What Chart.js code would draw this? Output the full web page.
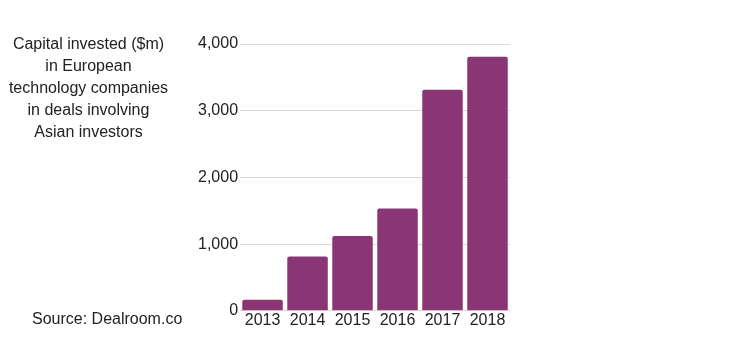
<!DOCTYPE html>
<html>
<head>
<meta charset="utf-8">
<script src="https://cdn.jsdelivr.net/npm/chart.js@4"></script>
<style>
  html, body { margin: 0; padding: 0; background: #fff; }
  #wrap { position: relative; width: 750px; height: 355px; }
  #c { position: absolute; left: 0; top: 0; }
  .txt { position: absolute; font-family: "Liberation Sans", Arial, sans-serif; font-size: 16px; color: #222; }
  #title { left: 0; top: 33px; width: 177px; text-align: center; line-height: 22px; }
  #source { left: 32px; top: 308px; line-height: 22px; }
</style>
</head>
<body>
<div id="wrap">
  <canvas id="c" width="750" height="355"></canvas>
  <div id="title" class="txt"></div>
  <div id="source" class="txt"></div>
</div>
<script>
const categories = ["2013", "2014", "2015", "2016", "2017", "2018"];
const capitalInvested = [165, 815, 1120, 1535, 3315, 3810];
const yTicks = [0, 1000, 2000, 3000, 4000];
const titleLines = ["Capital invested ($m)", "in European", "technology companies", "in deals involving", "Asian investors"];
const sourceText = "Source: Dealroom.co";

document.getElementById('title').innerHTML = titleLines.join('<br>');
document.getElementById('source').textContent = sourceText;

Chart.defaults.font.family = '"Liberation Sans", Arial, sans-serif';
Chart.defaults.font.size = 16;
Chart.defaults.color = '#222';

new Chart(document.getElementById('c'), {
  type: 'bar',
  data: {
    labels: categories,
    datasets: [{
      data: capitalInvested,
      backgroundColor: '#8a3574',
      borderRadius: 2,
      borderSkipped: 'bottom',
      barPercentage: 0.9,
      categoryPercentage: 1.0
    }]
  },
  options: {
    responsive: false,
    animation: false,
    devicePixelRatio: 1,
    layout: { padding: { left: 196, right: 240, top: 44, bottom: 25 } },
    plugins: { legend: { display: false }, tooltip: { enabled: false } },
    scales: {
      x: {
        grid: { display: false, drawTicks: false },
        border: { display: false },
        ticks: { padding: 0, color: '#222', maxRotation: 0 }
      },
      y: {
        min: 0, max: 4000,
        afterBuildTicks: (s) => { s.ticks = yTicks.map(v => ({ value: v })); },
        grid: { color: '#d9d9d9', drawTicks: false },
        border: { display: false },
        ticks: {
          padding: 2,
          color: '#222',
          callback: (v) => v.toLocaleString('en-US')
        }
      }
    }
  }
});
</script>
</body>
</html>
